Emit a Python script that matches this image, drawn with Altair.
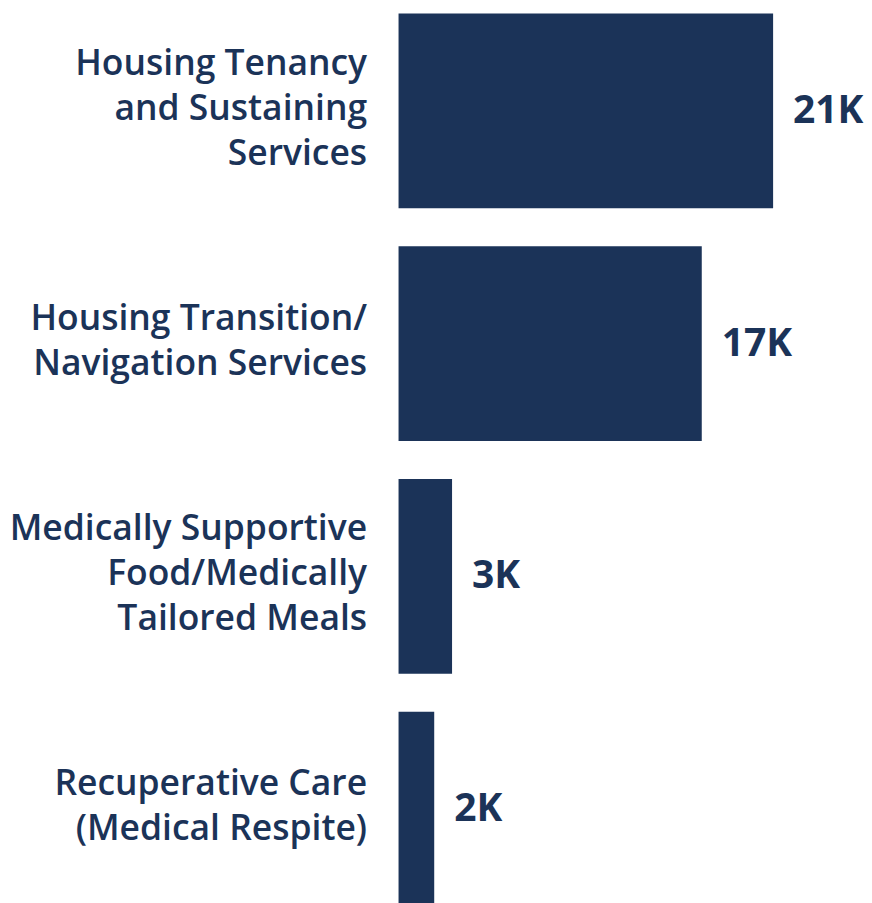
import altair as alt
import pandas as pd

categories = [
    "Housing Tenancy|and Sustaining|Services",
    "Housing Transition/|Navigation Services",
    "Medically Supportive|Food/Medically|Tailored Meals",
    "Recuperative Care|(Medical Respite)",
]
values = [21000, 17000, 3000, 2000]
value_labels = ["21K", "17K", "3K", "2K"]

df = pd.DataFrame({"cat": categories, "val": values, "lab": value_labels})

NAVY = "#1b3358"
FONT = "Open Sans"

y_enc = alt.Y(
    "cat:N",
    sort=categories,
    title=None,
    scale=alt.Scale(paddingInner=0.163, paddingOuter=0.0215),
    axis=alt.Axis(
        labelExpr="split(datum.label, '|')",
        labelFont=FONT,
        labelFontSize=35.5,
        labelFontWeight=600,
        labelColor=NAVY,
        labelLineHeight=45,
        labelPadding=32,
        labelLimit=0,
        labelOffset={
            "condition": {"test": "length(split(datum.label, '|')) == 3", "value": -47},
            "value": -25,
        },
        ticks=False,
        domain=False,
        minExtent=391,
        maxExtent=391,
    ),
)
x_enc = alt.X(
    "val:Q",
    title=None,
    scale=alt.Scale(domain=[0, 21000], nice=False),
    axis=None,
)

bars = alt.Chart(df).mark_bar(color=NAVY).encode(x=x_enc, y=y_enc)
texts = alt.Chart(df).mark_text(
    align="left", baseline="middle", dx=20, font=FONT, fontSize=39,
    fontWeight="bold", color=NAVY
).encode(x=x_enc, y=y_enc, text="lab:N")

chart = (
    (bars + texts)
    .properties(width=375, height=904)
    .configure(padding=0)
    .configure_view(stroke=None, strokeWidth=0)
)
chart.save("out.html", embed_options={"renderer": "svg", "actions": False})
